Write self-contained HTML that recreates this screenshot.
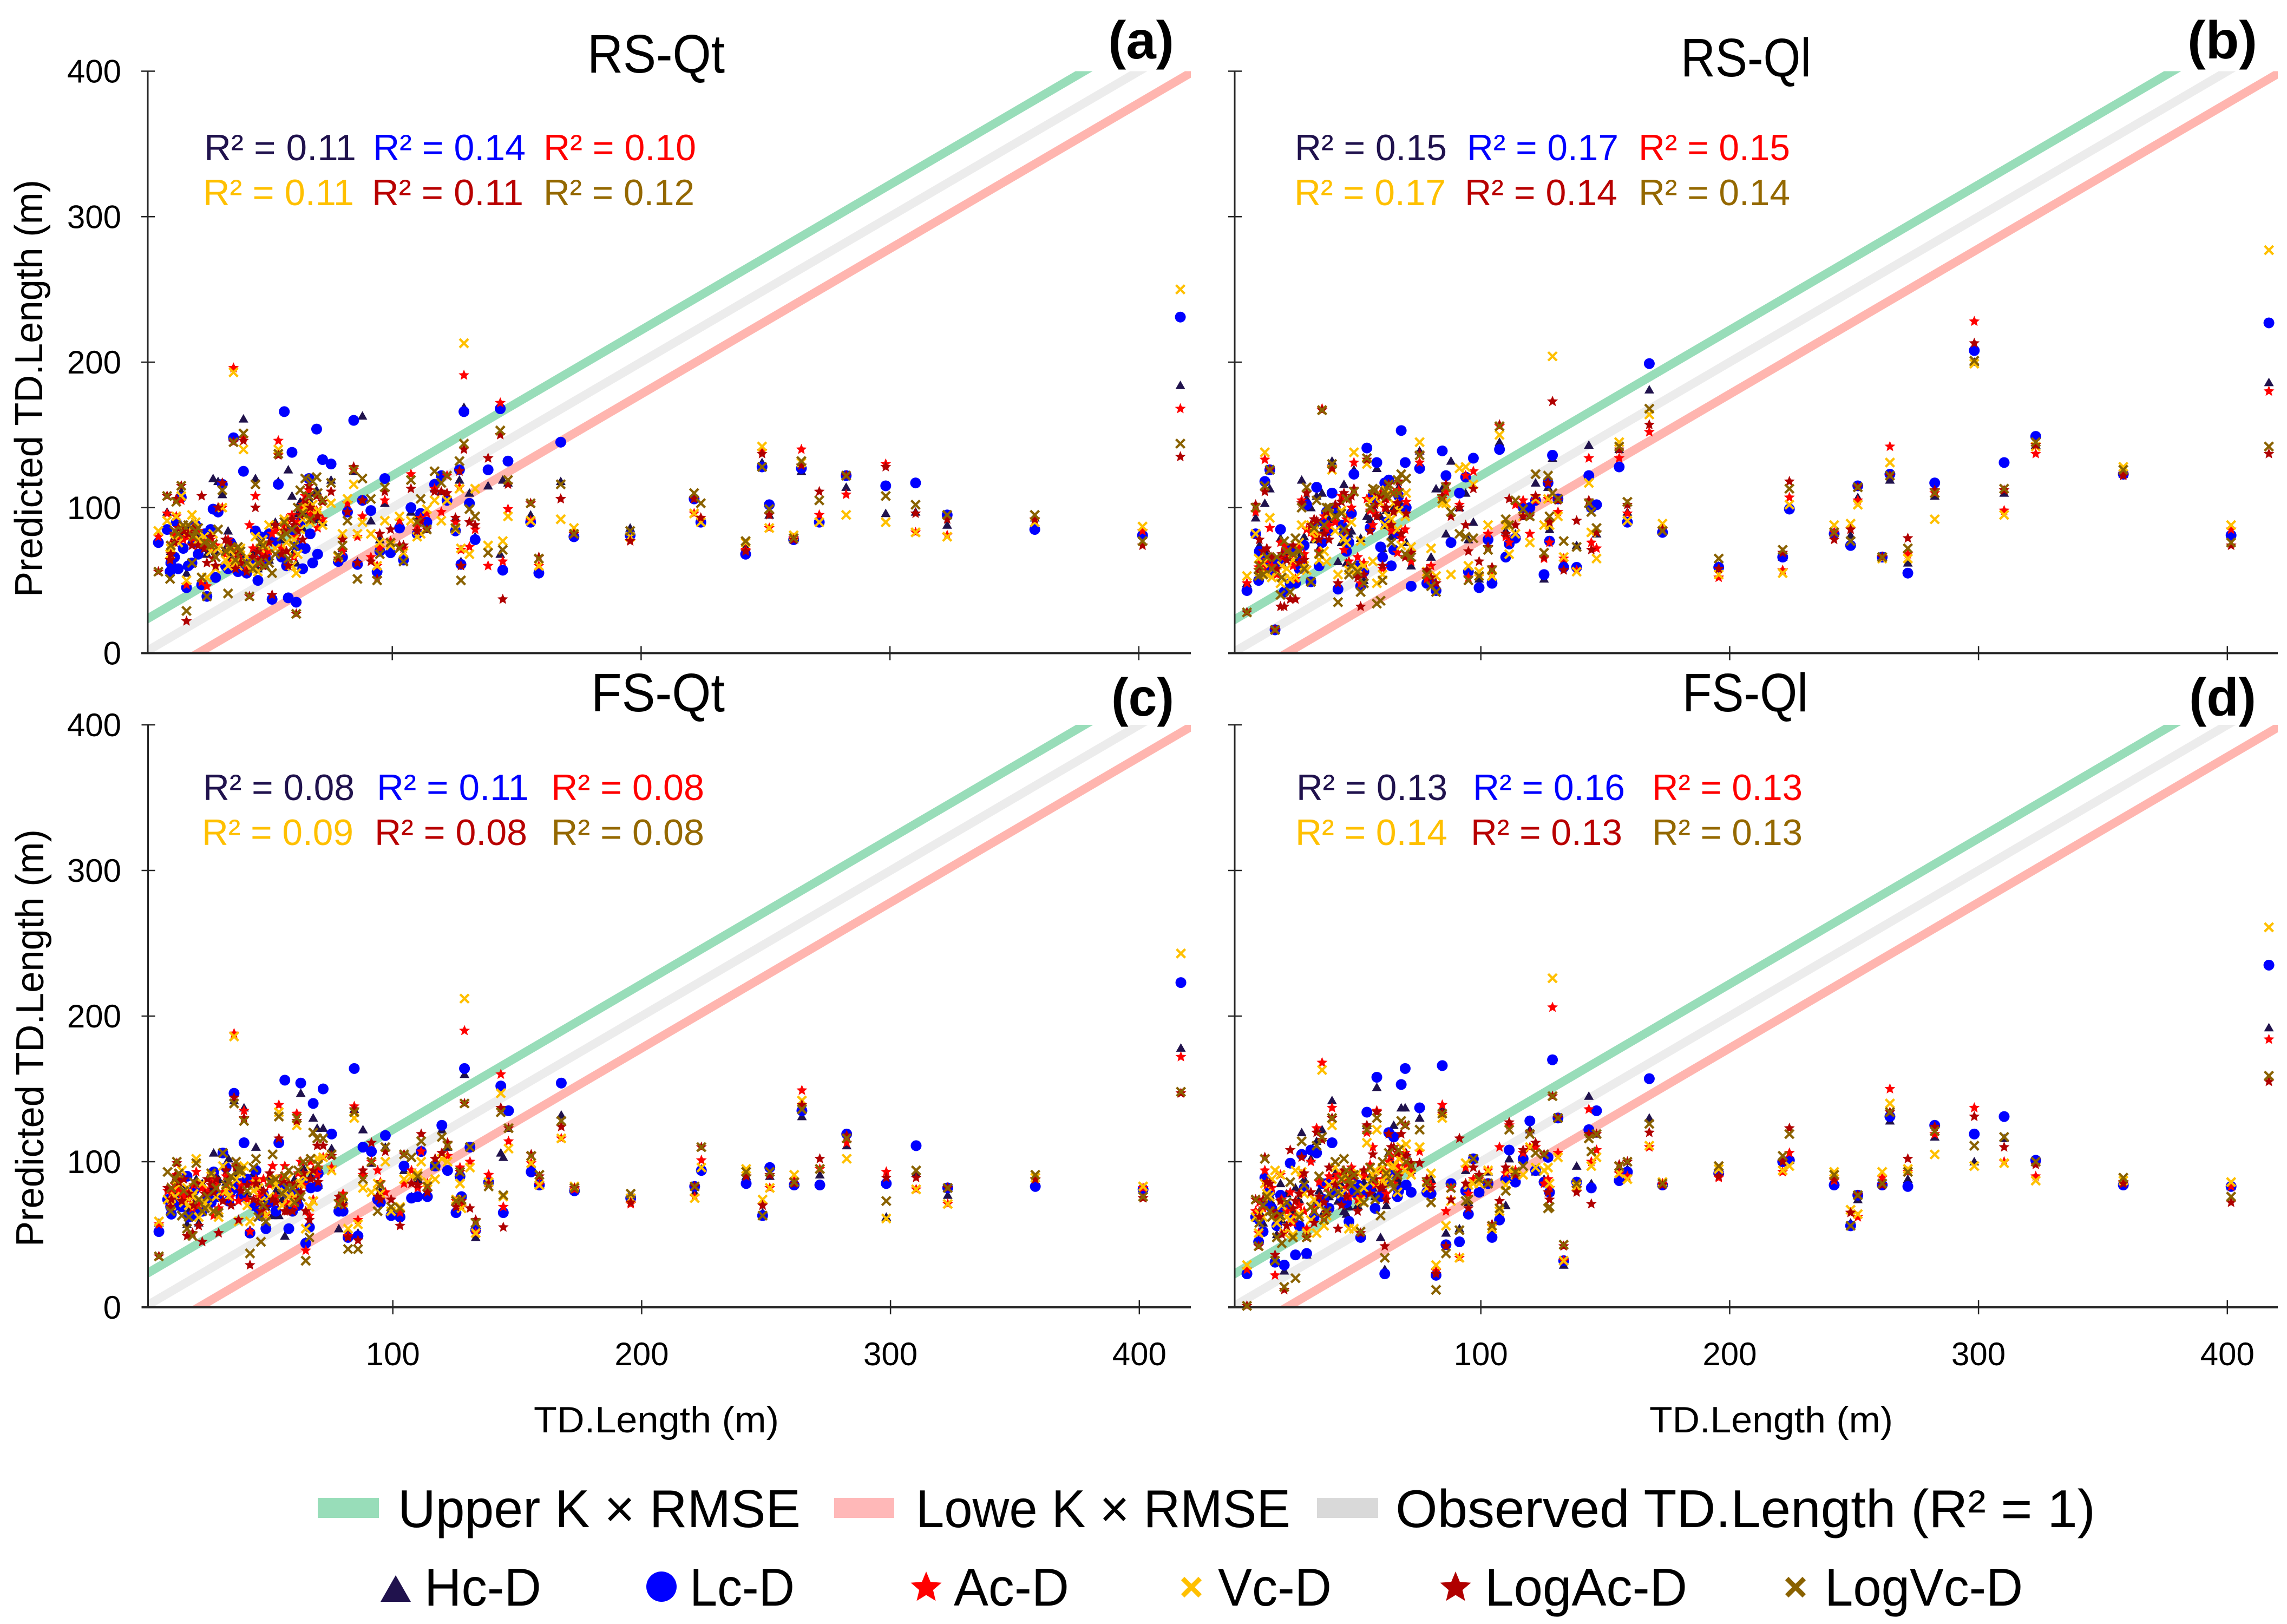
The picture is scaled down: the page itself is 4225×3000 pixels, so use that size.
<!DOCTYPE html>
<html lang="en">
<head>
<meta charset="utf-8">
<title>Predicted vs observed TD.Length</title>
<style>
html,body{margin:0;padding:0;background:#fff;width:4225px;height:3000px;overflow:hidden}
svg{display:block}
text{font-family:"Liberation Sans",sans-serif}
</style>
</head>
<body>
<svg id="chart" xmlns="http://www.w3.org/2000/svg" width="4225" height="3000" viewBox="0 0 4225 3000">
<rect x="0" y="0" width="4225" height="3000" fill="#fff"/>
<defs id="defs"></defs>
<g id="panels"></g>

<g font-size="100" fill="#000">
<text x="1085" y="134" textLength="254" lengthAdjust="spacingAndGlyphs">RS-Qt</text>
<text x="3105" y="141" textLength="241" lengthAdjust="spacingAndGlyphs">RS-Ql</text>
<text x="1092" y="1314" textLength="247" lengthAdjust="spacingAndGlyphs">FS-Qt</text>
<text x="3108" y="1314" textLength="232" lengthAdjust="spacingAndGlyphs">FS-Ql</text>
</g>
<g font-size="98" font-weight="bold" fill="#000">
<text x="2047" y="108" textLength="122" lengthAdjust="spacingAndGlyphs">(a)</text>
<text x="4041" y="108" textLength="129" lengthAdjust="spacingAndGlyphs">(b)</text>
<text x="2053" y="1322" textLength="116" lengthAdjust="spacingAndGlyphs">(c)</text>
<text x="4044" y="1322" textLength="124" lengthAdjust="spacingAndGlyphs">(d)</text>
</g>

<g font-size="68">
<text x="377" y="296" fill="#20124D" textLength="281" lengthAdjust="spacingAndGlyphs">R² = 0.11</text>
<text x="689" y="296" fill="#0000FF" textLength="282" lengthAdjust="spacingAndGlyphs">R² = 0.14</text>
<text x="1004" y="296" fill="#FF0000" textLength="282" lengthAdjust="spacingAndGlyphs">R² = 0.10</text>
<text x="375" y="379" fill="#FFC000" textLength="279" lengthAdjust="spacingAndGlyphs">R² = 0.11</text>
<text x="687" y="379" fill="#B80000" textLength="280" lengthAdjust="spacingAndGlyphs">R² = 0.11</text>
<text x="1004" y="379" fill="#946800" textLength="279" lengthAdjust="spacingAndGlyphs">R² = 0.12</text>
</g>
<g font-size="68">
<text x="2392" y="296" fill="#20124D" textLength="281" lengthAdjust="spacingAndGlyphs">R² = 0.15</text>
<text x="2710" y="296" fill="#0000FF" textLength="280" lengthAdjust="spacingAndGlyphs">R² = 0.17</text>
<text x="3027" y="296" fill="#FF0000" textLength="280" lengthAdjust="spacingAndGlyphs">R² = 0.15</text>
<text x="2391" y="379" fill="#FFC000" textLength="280" lengthAdjust="spacingAndGlyphs">R² = 0.17</text>
<text x="2706" y="379" fill="#B80000" textLength="282" lengthAdjust="spacingAndGlyphs">R² = 0.14</text>
<text x="3027" y="379" fill="#946800" textLength="280" lengthAdjust="spacingAndGlyphs">R² = 0.14</text>
</g>
<g font-size="68">
<text x="375" y="1478" fill="#20124D" textLength="280" lengthAdjust="spacingAndGlyphs">R² = 0.08</text>
<text x="696" y="1478" fill="#0000FF" textLength="281" lengthAdjust="spacingAndGlyphs">R² = 0.11</text>
<text x="1018" y="1478" fill="#FF0000" textLength="283" lengthAdjust="spacingAndGlyphs">R² = 0.08</text>
<text x="373" y="1561" fill="#FFC000" textLength="280" lengthAdjust="spacingAndGlyphs">R² = 0.09</text>
<text x="692" y="1561" fill="#B80000" textLength="282" lengthAdjust="spacingAndGlyphs">R² = 0.08</text>
<text x="1018" y="1561" fill="#946800" textLength="283" lengthAdjust="spacingAndGlyphs">R² = 0.08</text>
</g>
<g font-size="68">
<text x="2395" y="1478" fill="#20124D" textLength="279" lengthAdjust="spacingAndGlyphs">R² = 0.13</text>
<text x="2721" y="1478" fill="#0000FF" textLength="281" lengthAdjust="spacingAndGlyphs">R² = 0.16</text>
<text x="3052" y="1478" fill="#FF0000" textLength="278" lengthAdjust="spacingAndGlyphs">R² = 0.13</text>
<text x="2393" y="1561" fill="#FFC000" textLength="281" lengthAdjust="spacingAndGlyphs">R² = 0.14</text>
<text x="2717" y="1561" fill="#B80000" textLength="280" lengthAdjust="spacingAndGlyphs">R² = 0.13</text>
<text x="3052" y="1561" fill="#946800" textLength="278" lengthAdjust="spacingAndGlyphs">R² = 0.13</text>
</g>

<g font-size="72" fill="#000">
<text transform="translate(78,1103) rotate(-90)" textLength="771" lengthAdjust="spacingAndGlyphs">Predicted TD.Length (m)</text>
<text transform="translate(80,2303) rotate(-90)" textLength="771" lengthAdjust="spacingAndGlyphs">Predicted TD.Length (m)</text>
<text x="986" y="2646" font-size="68" textLength="453" lengthAdjust="spacingAndGlyphs">TD.Length (m)</text>
<text x="3047" y="2646" font-size="68" textLength="450" lengthAdjust="spacingAndGlyphs">TD.Length (m)</text>
</g>

<g font-size="98" fill="#000">
<rect x="587" y="2767" width="113" height="37" fill="#98DDB9"/>
<text x="735" y="2821" textLength="744" lengthAdjust="spacingAndGlyphs">Upper K × RMSE</text>
<rect x="1541" y="2767" width="111" height="37" fill="#FFB8B8"/>
<text x="1692" y="2821" textLength="692" lengthAdjust="spacingAndGlyphs">Lowe K × RMSE</text>
<rect x="2433" y="2767" width="113" height="37" fill="#D9D9D9"/>
<text x="2578" y="2821" textLength="1293" lengthAdjust="spacingAndGlyphs">Observed TD.Length (R² = 1)</text>
<g id="legend-markers"></g>
<text x="784" y="2966" textLength="216" lengthAdjust="spacingAndGlyphs">Hc-D</text>
<text x="1274" y="2966" textLength="194" lengthAdjust="spacingAndGlyphs">Lc-D</text>
<text x="1762" y="2966" textLength="213" lengthAdjust="spacingAndGlyphs">Ac-D</text>
<text x="2250" y="2966" textLength="210" lengthAdjust="spacingAndGlyphs">Vc-D</text>
<text x="2743" y="2966" textLength="374" lengthAdjust="spacingAndGlyphs">LogAc-D</text>
<text x="3371" y="2966" textLength="366" lengthAdjust="spacingAndGlyphs">LogVc-D</text>
</g>
</svg>

<script>
// Observed TD.Length for each site (m)
const xValues = [6,9.5,10.7,13.2,15.2,17.3,19.5,21,23.4,25.5,
28,30,31.7,34,36.2,38,40.2,42.6,45,47,
49,51.7,54.2,56.6,58.2,59.7,61.4,63,65,66.5,
68,69.6,72,
75.4,78.3,82,84.5,86,88,91.4,93.9,97,99.3,
102.9,104.5,107.5,111.4,113.9,117,119.7,122,125.4,127,
127.6,128.8,131,133.3,138.5,143.4,144.4,146.5,
155.6,158.9,167.7,173,195.6,221.3,224,242,248.6,251.5,261.3,264.4,271.6,282.4,298.3,310.3,323,358.2,401.5,416.7,
11,12.5,14,16,18,20,22,24.5,27,29,33,35,37,39,41.5,44,46,48,50.5,53,55.5,57.5,60.5,62,64,67,70,80,95,110];

const xTickValues = [100,200,300,400];
const yTickValues = [0,100,200,300,400];
const rmseBand = 22;

// Panel (a) RS-Qt
const aHc = [78,97,63,92,111,55,78,85,72,68,120,118,109,84,148,62,161,62,120,74,60,78,118,90,126,108,62,104,96,110,100,112,90,119,66,100,125,63,163,91,59,103,76,90,66,97,91,85,113,111,108,93,119,63,169,110,80,115,68,119,117,95,57,118,83,86,107,91,73,131,95,78,125,90,114,96,97,88,93,81,184,
70,80,84,82,86,85,80,78,72,70,72,66,74,68,64,70,58,72,64,90,78,88,70,96,86,104,92,72,78,94];
const aLc = [76,85,56,90,107,45,62,88,47,39,99,97,116,58,148,56,125,64,84,80,66,37,116,166,38,138,35,90,72,120,62,154,133,130,63,97,160,61,105,98,56,120,69,86,64,100,96,90,116,122,105,84,126,61,166,103,78,126,168,57,132,90,55,145,80,81,106,90,68,128,102,78,127,90,122,115,117,95,85,81,231,
62,66,58,72,60,76,68,82,85,52,60,76,60,58,55,62,50,64,82,76,66,60,84,74,58,82,68,66,70,82];
const aAc = [80,96,64,94,105,47,74,84,49,46,72,100,100,78,196,66,148,88,108,62,70,82,146,88,60,95,80,100,108,112,95,98,92,111,65,103,126,80,94,66,60,105,77,91,72,123,93,96,113,97,122,90,114,71,191,73,85,60,172,63,99,91,60,106,82,77,96,93,71,139,86,79,140,95,109,130,83,81,92,84,168,
75,82,80,78,80,79,84,75,78,74,68,62,70,64,60,72,64,68,70,84,72,92,66,90,102,96,86,70,72,88];
const aVc = [84,91,68,94,108,50,95,90,52,52,82,72,100,60,193,60,140,58,80,72,74,55,140,92,70,60,55,85,100,100,102,95,88,103,66,106,116,82,90,82,60,91,74,94,69,91,82,99,105,91,105,85,113,72,213,68,113,74,153,77,94,91,60,92,86,80,96,90,76,142,86,81,131,90,95,90,83,80,90,87,250,
72,78,76,86,84,82,78,80,70,58,64,70,62,72,66,60,56,78,88,72,84,76,78,68,92,90,98,82,76,80];
const aLogAc = [56,108,64,106,115,22,74,85,108,62,65,100,117,76,145,68,146,39,100,64,66,40,136,84,60,92,27,95,105,115,92,108,104,111,65,97,128,62,105,63,51,111,85,74,74,113,91,85,111,111,110,93,125,60,140,90,88,134,150,37,116,103,66,106,82,77,106,93,70,137,95,78,129,111,122,128,96,92,92,74,135,
68,76,86,84,82,86,74,72,80,60,78,74,58,62,56,66,70,60,76,88,68,70,88,84,78,100,94,78,82,84];
const aLogVc = [56,108,51,104,115,29,62,84,52,39,75,85,112,41,145,73,151,39,116,76,60,55,137,90,65,85,27,112,120,108,118,121,105,117,67,91,126,51,120,106,50,114,76,72,63,119,106,85,125,117,122,86,132,50,144,99,94,69,153,71,119,103,65,116,82,84,110,103,77,128,99,79,132,105,122,108,102,95,95,77,144,
74,84,82,88,88,80,86,76,74,66,70,72,64,70,62,58,62,74,62,68,80,82,74,100,96,92,110,74,68,90];

// Panel (b) RS-Ql
const bHc = [48,93,57,103,113,17,79,69,69,63,119,106,100,108,110,85,132,63,116,82,126,79,94,100,127,94,88,88,100,100,102,102,60,139,51,113,113,82,132,100,110,90,51,79,51,145,77,82,94,100,117,51,114,85,134,106,63,74,143,100,82,140,97,181,84,60,66,100,83,81,107,66,119,62,108,200,110,143,123,81,186,
74,60,68,62,60,62,66,72,66,80,78,72,86,92,96,76,62,84,54,50,92,110,72,98,80,114,76,66,78,84];
const bLc = [43,82,50,118,126,16,85,42,48,48,63,102,49,114,76,97,110,44,82,76,123,46,141,108,131,73,117,119,71,82,153,131,46,127,48,43,139,122,76,110,121,134,45,78,48,140,75,79,100,100,105,54,117,77,136,106,59,59,122,100,102,128,90,199,83,59,66,99,82,74,115,66,123,55,117,208,131,149,123,81,227,
70,66,60,56,62,64,72,70,58,74,88,60,90,84,100,88,70,96,60,56,86,104,66,90,60,108,100,50,56,66];
const bAc = [48,97,59,133,86,16,76,74,66,51,105,85,83,82,168,85,128,48,71,63,131,48,106,88,94,110,100,88,110,69,79,85,63,131,51,48,106,111,94,102,122,125,54,82,54,156,76,102,105,82,105,65,106,76,173,97,65,57,134,76,72,134,96,152,85,52,57,107,83,85,105,66,142,68,110,228,98,137,123,85,180,
62,58,64,60,54,66,70,60,72,68,80,70,94,88,90,108,92,100,66,62,98,96,58,106,84,112,104,60,52,80];
const bVc = [53,82,65,138,93,16,48,51,51,52,88,57,88,79,167,63,126,54,79,57,138,77,130,63,48,103,88,94,103,85,74,94,73,145,56,53,103,103,54,127,128,116,56,88,53,150,68,82,94,76,106,88,106,88,204,94,66,56,117,83,65,145,91,164,89,54,55,102,88,89,102,65,131,65,92,199,95,142,128,88,277,
56,62,54,52,56,60,58,64,76,60,84,64,70,96,84,98,76,90,58,60,104,108,54,112,92,98,110,72,60,88];
const bLogAc = [28,102,57,111,126,16,32,32,37,37,103,110,88,91,167,97,127,48,110,106,113,32,133,111,94,108,106,116,97,103,82,66,69,137,57,48,108,116,94,100,88,113,63,73,59,157,106,88,94,94,108,66,117,90,173,105,57,91,105,71,83,140,102,157,85,58,69,118,78,85,114,66,122,79,112,213,112,143,122,74,137,
78,70,72,66,58,68,64,74,62,64,92,78,82,78,102,104,84,108,52,54,84,102,60,100,88,118,96,52,70,82];
const bLogVc = [28,100,53,115,126,16,40,77,42,79,100,114,49,105,167,100,130,35,85,54,111,42,134,113,34,36,111,116,110,119,123,68,66,136,54,42,106,114,97,82,80,79,53,71,57,156,88,105,99,94,123,69,122,94,110,106,77,73,103,97,86,142,104,168,84,65,71,113,83,77,114,66,122,72,110,201,113,145,126,76,142,
60,54,66,58,66,52,70,68,70,58,86,68,88,100,94,96,106,60,56,48,100,112,50,108,76,110,120,46,50,92];

// Panel (c) FS-Qt
const cHc = [58,74,69,83,69,57,63,88,85,73,106,88,106,102,142,94,137,53,110,66,69,63,63,49,85,74,79,147,45,56,130,123,123,109,54,51,136,51,122,99,74,110,66,66,94,76,108,79,99,122,110,66,91,73,160,110,48,85,106,103,123,98,85,132,81,76,79,95,90,65,90,87,131,91,111,62,92,77,85,81,178,
72,80,78,82,66,72,58,76,82,90,86,72,92,86,78,92,84,72,90,80,74,68,88,78,96,90,84,74,80,88];
const cLc = [52,74,69,86,69,90,63,82,66,76,93,76,106,73,147,85,113,51,94,63,54,73,113,156,54,66,73,154,44,55,140,83,150,119,66,48,164,49,110,107,74,118,63,62,97,75,107,76,97,125,94,65,90,76,164,110,53,86,152,65,135,93,84,154,80,75,83,94,85,63,96,84,135,84,119,85,111,82,83,81,223,
64,70,72,78,62,80,66,70,72,78,96,80,82,76,88,70,68,78,72,66,84,78,80,70,86,82,92,66,72,76];
const cAc = [57,80,73,91,76,80,68,93,82,79,63,68,79,82,188,73,135,52,88,79,63,97,139,97,85,76,133,100,39,63,74,91,103,96,73,49,138,60,91,100,94,79,74,65,85,94,107,85,102,106,104,73,96,69,190,100,51,91,160,69,114,99,84,116,81,71,76,101,90,70,82,87,149,95,113,93,81,71,88,82,172,
78,84,80,76,74,84,70,80,86,84,90,76,98,84,74,86,76,88,84,76,90,72,70,92,84,100,96,78,86,82];
const cVc = [59,74,71,88,94,82,76,102,85,69,66,62,97,76,186,59,97,59,85,73,63,88,134,79,76,73,125,85,54,69,73,102,103,94,71,54,130,57,82,79,85,100,66,69,88,90,100,86,88,102,100,74,85,68,212,96,51,86,147,76,109,99,84,116,83,75,75,96,95,74,82,91,142,95,102,61,81,71,89,83,243,
70,76,84,72,70,78,62,72,90,76,80,84,88,92,70,80,82,66,76,84,70,88,76,84,90,94,102,72,78,92];
const cLogAc = [35,82,69,99,73,49,51,85,45,88,79,51,73,88,144,60,130,29,85,66,69,74,116,66,85,66,128,79,66,60,94,111,111,104,76,48,136,46,94,113,76,107,74,56,105,85,119,79,102,106,113,69,93,73,140,68,60,85,137,55,123,105,90,124,82,72,83,110,90,70,91,85,139,102,118,89,89,82,88,75,147,
74,90,86,88,78,70,56,78,84,88,94,70,96,80,84,74,72,80,92,72,86,66,84,74,92,88,86,70,74,84];
const cLogVc = [35,93,66,100,63,54,49,99,66,76,66,65,106,86,140,94,128,37,102,45,59,105,131,90,94,82,130,76,32,48,120,116,116,105,71,40,134,40,88,100,66,110,69,68,105,103,114,83,97,117,111,73,93,74,140,110,58,83,134,77,123,104,91,128,82,78,83,110,93,63,93,86,136,95,116,73,94,82,91,76,148,
82,88,92,80,62,86,74,68,92,82,84,90,100,94,80,96,62,70,86,88,78,82,72,94,100,102,98,76,84,90];

// Panel (d) FS-Ql
const dHc = [26,62,46,90,77,32,85,25,99,82,120,36,102,114,122,69,142,73,66,69,82,49,125,82,151,48,26,106,125,88,137,137,94,130,85,23,137,51,85,54,94,102,79,93,51,63,102,91,103,122,93,88,103,79,170,130,29,97,145,85,119,95,95,130,85,93,101,101,88,58,74,86,128,88,117,100,116,100,85,83,192,
66,58,80,72,50,60,78,66,74,88,70,80,66,76,92,84,64,78,70,86,90,76,94,70,100,86,106,88,72,70];
const dLc = [23,62,45,89,79,31,77,29,99,36,105,37,108,106,85,85,113,79,76,59,79,48,134,85,158,76,23,120,117,76,153,164,79,137,79,22,166,43,85,45,80,102,79,85,48,60,108,86,102,128,94,86,103,79,170,130,32,86,122,82,135,87,93,157,84,92,100,101,84,56,77,84,131,83,125,119,131,101,84,83,235,
60,52,72,68,56,66,70,60,56,82,62,72,74,68,80,76,72,86,84,78,80,68,78,86,92,80,84,78,64,88];
const dAc = [26,66,51,94,85,22,91,51,79,63,91,54,100,123,168,82,137,91,88,76,91,76,120,110,135,94,94,100,85,97,103,106,93,107,86,25,139,66,82,34,96,88,88,94,56,110,125,94,106,110,110,85,88,82,206,106,32,82,136,100,108,92,90,110,85,89,93,106,87,65,62,89,150,93,119,137,100,90,86,83,184,
72,68,84,82,62,74,66,58,70,66,68,86,62,90,88,92,82,96,74,90,98,84,88,78,104,94,98,84,78,92];
const dVc = [29,62,51,85,76,94,91,51,60,94,93,51,60,51,163,63,125,85,91,54,54,73,113,91,122,85,85,88,97,79,110,94,91,110,82,29,130,56,73,34,99,85,85,94,54,66,94,91,91,110,96,94,96,85,226,103,32,83,116,97,103,92,88,111,86,95,94,97,93,67,64,93,140,95,105,97,99,87,87,86,261,
64,62,78,88,58,70,62,50,64,78,74,70,56,84,96,78,90,88,92,82,86,94,96,90,96,102,112,92,84,84];
const dLogAc = [1,74,42,103,85,36,73,12,108,73,103,48,79,120,115,65,130,54,94,85,90,51,125,105,134,82,42,119,110,106,119,125,99,99,88,23,133,42,74,116,85,96,91,85,57,73,127,91,108,120,113,105,79,74,145,130,42,79,119,71,119,98,100,120,84,90,100,123,88,65,77,84,134,102,124,131,110,98,85,72,155,
62,74,86,66,64,50,56,68,78,92,58,76,72,96,84,70,76,92,66,94,78,88,82,74,110,90,104,82,68,96];
const dLogVc = [1,74,42,102,66,32,63,14,86,20,114,48,69,111,117,66,130,79,102,88,91,52,122,88,130,63,34,106,82,91,128,125,97,122,86,12,133,37,82,53,73,102,88,85,56,68,122,93,97,119,106,105,68,69,145,130,43,85,116,107,119,97,100,126,85,97,104,119,91,56,77,85,134,93,121,111,117,100,89,76,159,
58,70,76,62,48,44,72,48,62,84,66,90,60,78,100,88,94,84,80,72,96,74,100,92,86,108,100,72,74,80];

const NS = 'http://www.w3.org/2000/svg';
const seriesStyles = [
  {key:'hc', kind:'triangle', color:'#20124D'},
  {key:'lc', kind:'circle', color:'#0000FF'},
  {key:'ac', kind:'star', color:'#FF0000'},
  {key:'vc', kind:'cross', color:'#FFC000'},
  {key:'logac', kind:'star', color:'#B00000'},
  {key:'logvc', kind:'cross', color:'#8A6200'}
];
const panelConfigs = [
  {id:'a', x0:265, xs:4.597, y0:1206.5, ys:2.6875, left:273, right:2200, yLabels:true, xLabels:false, series:[aHc,aLc,aAc,aVc,aLogAc,aLogVc]},
  {id:'b', x0:2276, xs:4.597, y0:1206.5, ys:2.6875, left:2281, right:4208, yLabels:false, xLabels:false, series:[bHc,bLc,bAc,bVc,bLogAc,bLogVc]},
  {id:'c', x0:266, xs:4.597, y0:2415, ys:2.69, left:273.5, right:2200, yLabels:true, xLabels:true, series:[cHc,cLc,cAc,cVc,cLogAc,cLogVc]},
  {id:'d', x0:2276, xs:4.597, y0:2415, ys:2.69, left:2281, right:4208, yLabels:false, xLabels:true, series:[dHc,dLc,dAc,dVc,dLogAc,dLogVc]}
];

function xScale(p, v){ return p.x0 + v * p.xs; }
function yScale(p, v){ return p.y0 - v * p.ys; }

function svgEl(tag, attrs){
  const el = document.createElementNS(NS, tag);
  for (const k in attrs) el.setAttribute(k, attrs[k]);
  return el;
}

function starPoints(cx, cy, r){
  const pts = [];
  for (let i = 0; i < 10; i++){
    const rad = i % 2 === 0 ? r : r * 0.45;
    const ang = -Math.PI / 2 + i * Math.PI / 5;
    pts.push((cx + rad * Math.cos(ang)).toFixed(1) + ',' + (cy + rad * Math.sin(ang)).toFixed(1));
  }
  return pts.join(' ');
}

// size = nominal radius of the marker
function makeMarker(kind, cx, cy, size, color){
  if (kind === 'circle') return svgEl('circle', {cx:cx, cy:cy, r:size, fill:color});
  if (kind === 'star') return svgEl('polygon', {points:starPoints(cx, cy, size), fill:color});
  if (kind === 'triangle'){
    const pts = [cx + ',' + (cy - size), (cx - size) + ',' + (cy + size * 0.75), (cx + size) + ',' + (cy + size * 0.75)].join(' ');
    return svgEl('polygon', {points:pts, fill:color});
  }
  const d = 'M' + (cx - size) + ' ' + (cy - size) + 'L' + (cx + size) + ' ' + (cy + size) + 'M' + (cx + size) + ' ' + (cy - size) + 'L' + (cx - size) + ' ' + (cy + size);
  return svgEl('path', {d:d, stroke:color, 'stroke-width':size * 0.55, fill:'none'});
}

const markerRadius = {circle:10, star:10.5, triangle:9, cross:8};

function drawBand(group, p, offset, color, name){
  const line = svgEl('line', {
    x1:xScale(p, -40), y1:yScale(p, -40 + offset),
    x2:xScale(p, 440), y2:yScale(p, 440 + offset),
    stroke:color, 'stroke-width':16
  });
  
  
  group.appendChild(line);
}

function drawPanel(p){
  const root = document.getElementById('panels');
  const g = svgEl('g', {});
  
  
  root.appendChild(g);

  const clip = svgEl('clipPath', {id:'clip-' + p.id});
  clip.appendChild(svgEl('rect', {x:p.left, y:yScale(p, 400), width:p.right - p.left, height:yScale(p, 0) - yScale(p, 400)}));
  document.getElementById('defs').appendChild(clip);

  const bands = svgEl('g', {'clip-path':'url(#clip-' + p.id + ')'});
  
  
  g.appendChild(bands);
  drawBand(bands, p, rmseBand, '#98DDB9', 'upper-rmse-line');
  drawBand(bands, p, 0, '#ECECEC', 'observed-line');
  drawBand(bands, p, -rmseBand, '#FFB5AF', 'lower-rmse-line');

  const axisColor = '#262626';
  const yAxis = svgEl('line', {x1:p.left, x2:p.left, y1:yScale(p, 400), y2:yScale(p, 0), stroke:axisColor, 'stroke-width':3});
  
  
  g.appendChild(yAxis);
  const xAxis = svgEl('line', {x1:p.left - 12, x2:p.right, y1:yScale(p, 0), y2:yScale(p, 0), stroke:axisColor, 'stroke-width':4});
  
  
  g.appendChild(xAxis);

  yTickValues.forEach(function(v){
    const t = svgEl('line', {x1:p.left - 12, x2:p.left + 13, y1:yScale(p, v), y2:yScale(p, v), stroke:axisColor, 'stroke-width':2.5});
    
    
    g.appendChild(t);
    if (p.yLabels){
      const lab = svgEl('text', {x:224, y:yScale(p, v) + 21, 'text-anchor':'end', 'font-size':60, fill:'#000'});
      lab.textContent = String(v);
      
      
      g.appendChild(lab);
    }
  });
  xTickValues.forEach(function(v){
    const t = svgEl('line', {x1:xScale(p, v), x2:xScale(p, v), y1:yScale(p, 0) - 13, y2:yScale(p, 0) + 13, stroke:axisColor, 'stroke-width':2.5});
    
    
    g.appendChild(t);
    if (p.xLabels){
      const lab = svgEl('text', {x:xScale(p, v), y:2522, 'text-anchor':'middle', 'font-size':60, fill:'#000'});
      lab.textContent = String(v);
      
      
      g.appendChild(lab);
    }
  });

  p.series.forEach(function(values, si){
    const style = seriesStyles[si];
    const sg = svgEl('g', {});
    
    
    g.appendChild(sg);
    values.forEach(function(v, i){
      if (v === null || v === undefined || xValues[i] === undefined) return;
      const m = makeMarker(style.kind, xScale(p, xValues[i]), yScale(p, v), markerRadius[style.kind], style.color);
      
      
      sg.appendChild(m);
    });
  });
}

panelConfigs.forEach(drawPanel);

const legendGroup = document.getElementById('legend-markers');
const legendMarkers = [
  {style:0, cx:731, cy:2938, size:28},
  {style:1, cx:1222, cy:2931, size:28},
  {style:2, cx:1711, cy:2933, size:30},
  {style:3, cx:2201, cy:2932, size:16},
  {style:4, cx:2689, cy:2933, size:30},
  {style:5, cx:3317, cy:2932, size:16}
];
legendMarkers.forEach(function(l){
  const st = seriesStyles[l.style];
  const m = makeMarker(st.kind, l.cx, l.cy, l.size, st.color);
  
  
  legendGroup.appendChild(m);
});
</script>
</body>
</html>
